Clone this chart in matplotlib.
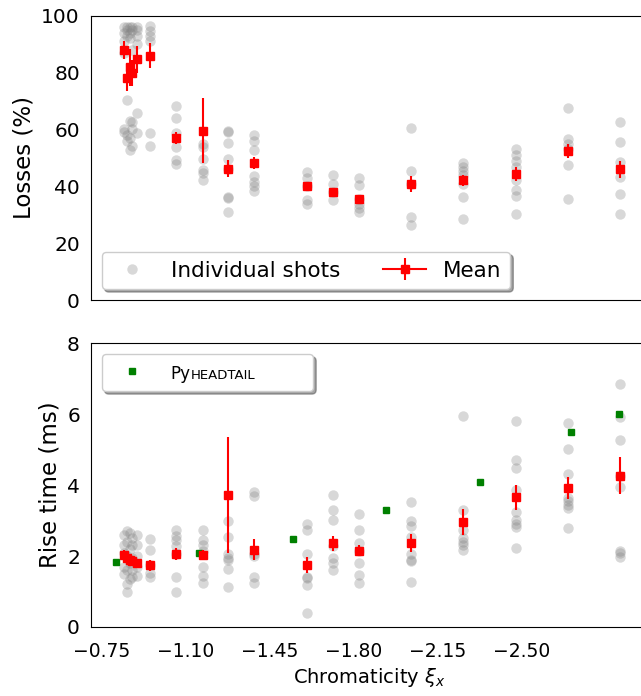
import numpy as np
import matplotlib
matplotlib.use("Agg")
import matplotlib.pyplot as plt
from matplotlib.lines import Line2D

# ---------------- data ----------------
chroma = [-0.843, -0.855, -0.868, -0.876, -0.897, -0.951, -1.059, -1.172, -1.276,
          -1.384, -1.605, -1.713, -1.821, -2.038, -2.254, -2.475, -2.691, -2.908]

loss_shots = [
    [96, 94, 91, 87, 59, 60],
    [95, 93, 96, 70.5, 55.8, 58],
    [96, 94, 92, 63, 52.6, 57],
    [95, 96, 88, 62.5, 60, 54],
    [96, 95, 93, 90, 65.6, 58.6],
    [96.5, 94.7, 93, 91.2, 58.7, 54.1],
    [68.1, 64.1, 58.7, 53.8, 49.1, 47.9],
    [55, 53.8, 49.7, 45.6, 44.5, 42.1],
    [59.4, 59.0, 55.2, 49.7, 46.2, 36.2, 36.0, 30.8],
    [58.2, 56.1, 52.9, 43.6, 41.5, 40.1, 38.4],
    [45, 43, 40, 35.1, 33.7],
    [43.9, 40.9, 38, 35.1],
    [43, 40.4, 35.7, 33.9, 32.5, 31],
    [60.4, 45.4, 40.9, 29.2, 26.3],
    [48.2, 46.8, 45.4, 43.9, 40.9, 36.2, 28.6],
    [53.2, 50.9, 48.8, 46.8, 42.1, 38.8, 36.5, 30.4],
    [67.6, 56.7, 55, 53.2, 47.4, 35.7],
    [62.6, 55.6, 48.5, 43.3, 37.4, 30.2],
]
loss_mean = [88, 78.2, 81.9, 79.9, 84.6, 86, 57, 59.6, 46.2, 48.2, 40, 37.9,
             35.7, 40.9, 42.1, 44.4, 52.3, 46]
loss_err = [3.2, 4.7, 6.5, 4.5, 4.8, 4.5, 2, 11.5, 3, 2.2, 1, 1, 1, 2.8, 2,
            2.5, 2.5, 3]

rise_shots = [
    [2.6, 2.3, 2.1, 1.7, 1.5],
    [2.7, 2.4, 2.0, 1.6, 1.2, 1.0],
    [2.65, 2.2, 1.9, 1.8, 1.35],
    [2.5, 2.3, 1.95, 1.6, 1.4],
    [2.6, 2.3, 2.0, 1.7, 1.45],
    [2.48, 2.16, 1.74, 1.51, 1.40],
    [2.74, 2.58, 2.44, 2.29, 2.06, 1.40, 1.0],
    [2.74, 2.44, 2.32, 2.13, 1.70, 1.44, 1.25],
    [3.0, 2.53, 2.06, 1.95, 1.89, 1.63, 1.14],
    [3.82, 3.68, 2.06, 2.0, 1.40, 1.25],
    [2.91, 2.74, 2.06, 1.42, 1.38, 1.19, 0.39],
    [3.71, 3.31, 3.01, 2.28, 1.94, 1.80, 1.61],
    [3.18, 2.74, 2.36, 2.13, 1.80, 1.47, 1.25],
    [3.52, 2.99, 2.85, 2.53, 2.06, 1.88, 1.85, 1.28],
    [5.94, 3.31, 2.74, 2.5, 2.41, 2.3, 2.17],
    [5.82, 4.72, 4.48, 3.87, 3.23, 3.02, 2.9, 2.83, 2.24],
    [5.74, 5.02, 4.32, 3.64, 3.54, 3.45, 3.35, 2.78],
    [6.86, 5.92, 5.28, 4.27, 3.95, 2.14, 2.10, 1.97],
]
rise_mean = [2.03, 1.95, 1.89, 1.85, 1.80, 1.74, 2.05, 2.03, 3.73, 2.18, 1.75,
             2.36, 2.15, 2.36, 2.96, 3.66, 3.92, 4.27]
rise_err = [0.15, 0.12, 0.1, 0.1, 0.1, 0.15, 0.17, 0.15, 1.63, 0.3, 0.22, 0.22,
            0.15, 0.25, 0.37, 0.35, 0.3, 0.53]

sim_chroma = [-0.81, -1.156, -1.548, -1.935, -2.326, -2.705, -2.905]
sim_rise = [1.83, 2.10, 2.48, 3.30, 4.09, 5.50, 6.01]

xticks = [-0.75, -1.10, -1.45, -1.80, -2.15, -2.50]
loss_ticks = [0, 20, 40, 60, 80, 100]
rise_ticks = [0, 2, 4, 6, 8]

# ---------------- figure ----------------
W, H = 641, 696
fig = plt.figure(figsize=(W / 100, H / 100), dpi=100)
ax1 = fig.add_axes([91 / W, 396 / H, (648 - 91) / W, (680.3 - 396) / H])
ax2 = fig.add_axes([91 / W, 69 / H, (648 - 91) / W, (352.7 - 69) / H])

shot_kw = dict(ls='none', marker='o', color='gray', alpha=0.3, ms=7.5, mec='none')
mean_kw = dict(fmt='s-', color='red', ms=5.5, lw=1.5, elinewidth=1.5, capsize=0)

# top panel
h_shot = None
h_mean = None
for x, vals in zip(chroma, loss_shots):
    l, = ax1.plot([x] * len(vals), vals, **shot_kw)
    h_shot = h_shot or l
for x, m, e in zip(chroma, loss_mean, loss_err):
    c = ax1.errorbar([x], [m], yerr=[e], **mean_kw)
    h_mean = h_mean or c

# bottom panel
for x, vals in zip(chroma, rise_shots):
    ax2.plot([x] * len(vals), vals, **shot_kw)
h_sim, = ax2.plot(sim_chroma, sim_rise, ls='none', marker='s', color='green',
                  ms=5, mec='green')
for x, m, e in zip(chroma, rise_mean, rise_err):
    ax2.errorbar([x], [m], yerr=[e], **mean_kw)

for ax in (ax1, ax2):
    ax.set_xlim(-0.7055, -3.024)
    ax.set_xticks(xticks)
    ax.tick_params(axis='both', length=0)
    ax.tick_params(axis='y', labelsize=14.5, pad=8)
    ax.tick_params(axis='x', labelsize=13.5, pad=10.5)
    ax.spines['right'].set_visible(False)

ax1.set_ylim(0, 100)
ax1.set_yticks(loss_ticks)
ax1.tick_params(axis='x', labelbottom=False)
ax1.set_ylabel('Losses (%)', fontsize=16.5)

ax2.set_ylim(0, 8)
ax2.set_yticks(rise_ticks)
ax2.set_ylabel('Rise time (ms)', fontsize=16.5)
ax2.set_xlabel(r'Chromaticity $\xi_x$', fontsize=14)

ax1.legend([h_shot, h_mean], ['Individual shots', 'Mean'], loc='lower left',
           ncol=2, fontsize=15.5, shadow=True)

empty = Line2D([], [], ls='none')
leg2 = ax2.legend([h_sim, empty], ['Py', ''], loc='upper left', ncol=2,
                  fontsize=15.5, shadow=True, columnspacing=2.5)
t = leg2.get_texts()[0]
t.set_fontsize(12)
ax2.annotate('HEADTAIL', xy=(1, 0), xycoords=t, xytext=(0.3, 2.8),
             textcoords='offset points', fontsize=9.5, va='baseline',
             ha='left', zorder=6)

fig.savefig('out.png', dpi=100)
